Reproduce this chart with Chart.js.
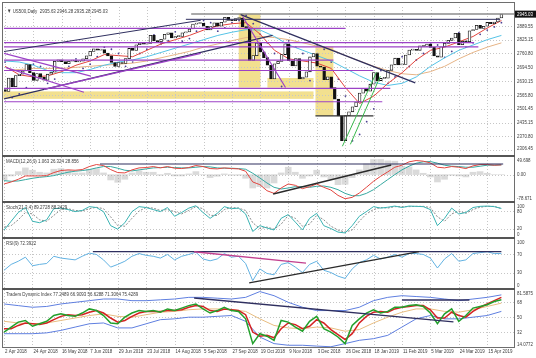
<!DOCTYPE html>
<html>
<head>
<meta charset="utf-8">
<title>US500 Daily</title>
<script src="https://cdn.jsdelivr.net/npm/chart.js@4.4.1/dist/chart.umd.min.js"></script>
<style>
  html, body { margin: 0; padding: 0; background: #fff; }
  #chart { position: relative; width: 536px; height: 358px; overflow: hidden; background: #fff; }
  #chart canvas { position: absolute; left: 0; }
  .rule { position: absolute; background: #6e6e6e; }
</style>
</head>
<body>
<div id="chart">
  <canvas id="c-price" width="536" height="152" style="top:3px"></canvas>
  <canvas id="c-macd" width="536" height="44" style="top:157px"></canvas>
  <canvas id="c-stoch" width="536" height="34" style="top:203px"></canvas>
  <canvas id="c-rsi" width="536" height="49" style="top:239px"></canvas>
  <canvas id="c-tdi" width="536" height="68" style="top:290px"></canvas>
  <div class="rule" style="left:2px;top:2px;width:513px;height:1px"></div>
  <div class="rule" style="left:2px;top:2px;width:1px;height:346px"></div>
  <div class="rule" style="left:514px;top:2px;width:1px;height:346px"></div>
  <div class="rule" style="left:2px;top:347px;width:513px;height:1px"></div>
  <div class="rule" style="left:2px;top:155px;width:513px;height:2px;background:#555"></div>
  <div class="rule" style="left:2px;top:201px;width:513px;height:2px;background:#555"></div>
  <div class="rule" style="left:2px;top:237px;width:513px;height:2px;background:#555"></div>
  <div class="rule" style="left:2px;top:288px;width:513px;height:2px;background:#555"></div>
</div>
<script>
// ---- time axis (bar index 0 = 2 Apr 2018, one label every 16 bars) ----
const dateLabels = ['2 Apr 2018', '24 Apr 2018', '16 May 2018', '7 Jun 2018', '29 Jun 2018', '23 Jul 2018',
  '14 Aug 2018', '5 Sep 2018', '27 Sep 2018', '19 Oct 2018', '9 Nov 2018', '3 Dec 2018', '26 Dec 2018',
  '18 Jan 2019', '11 Feb 2019', '5 Mar 2019', '24 Mar 2019', '15 Apr 2019'];
const labelEvery = 16;

// ---- price: one sampled candle every 2 bars ----
const barStep = 2;
const firstOpen = 2590;
const closes = [
  2582, 2645, 2604, 2656, 2663, 2678, 2708, 2670, 2634, 2666,
  2648, 2635, 2663, 2672, 2723, 2730, 2722, 2712, 2724, 2727,
  2721, 2724, 2735, 2749, 2770, 2782, 2776, 2779, 2762, 2749,
  2718, 2699, 2718, 2713, 2736, 2784, 2774, 2801, 2809, 2804,
  2807, 2846, 2819, 2816, 2827, 2850, 2857, 2833, 2839, 2840,
  2857, 2861, 2875, 2898, 2901, 2902, 2888, 2871, 2887, 2904,
  2888, 2907, 2930, 2916, 2914, 2924, 2926, 2886, 2881, 2728,
  2750, 2809, 2768, 2741, 2705, 2641, 2712, 2723, 2755, 2806,
  2726, 2702, 2736, 2641, 2649, 2674, 2744, 2760, 2700, 2696,
  2637, 2651, 2600, 2546, 2467, 2351, 2468, 2486, 2510, 2532,
  2574, 2597, 2583, 2616, 2671, 2633, 2643, 2644, 2681, 2707,
  2738, 2707, 2709, 2753, 2776, 2780, 2775, 2796, 2793, 2804,
  2789, 2749, 2743, 2792, 2808, 2822, 2833, 2855, 2801, 2818,
  2815, 2867, 2873, 2893, 2878, 2888, 2906, 2900, 2908, 2927,
  2945
];
const lastPrice = 2945.03;
const priceTicks = [2306.45, 2370.80, 2435.15, 2501.45, 2565.80, 2630.15, 2694.50, 2760.80, 2825.15, 2889.55];

// moving averages, one value every 8 bars
const maStep = 8;
const maFast = [2700, 2660, 2650, 2655, 2675, 2705, 2725, 2755, 2750, 2745, 2775, 2805, 2825, 2845, 2870, 2890, 2900, 2905,
  2850, 2775, 2735, 2725, 2715, 2690, 2600, 2525, 2560, 2620, 2670, 2730, 2775, 2790, 2815, 2840, 2880, 2915];
const maMid = [2725, 2720, 2705, 2680, 2670, 2670, 2685, 2705, 2720, 2730, 2745, 2765, 2785, 2805, 2825, 2845, 2860, 2872,
  2870, 2840, 2800, 2775, 2750, 2725, 2690, 2655, 2625, 2610, 2620, 2650, 2700, 2740, 2775, 2800, 2825, 2845];
const maSlow = [2680, 2685, 2690, 2690, 2690, 2695, 2700, 2705, 2710, 2715, 2725, 2740, 2755, 2770, 2790, 2805, 2820, 2835,
  2840, 2835, 2825, 2810, 2795, 2780, 2750, 2725, 2700, 2680, 2665, 2660, 2675, 2700, 2735, 2765, 2790, 2810];

// parabolic SAR and the oscillators, one value every 4 bars
const oscStep = 4;
const sar = [
  2720, 2553, 2570, 2600, 2710, 2700, 2620, 2640, 2680, 2700,
  2735, 2690, 2710, 2745, 2790, 2780, 2760, 2700, 2720, 2760,
  2780, 2848, 2805, 2820, 2862, 2818, 2830, 2865, 2915, 2905,
  2865, 2880, 2905, 2915, 2940, 2900, 2850, 2810, 2760, 2605,
  2820, 2790, 2760, 2633, 2800, 2780, 2720, 2640, 2560, 2350,
  2380, 2440, 2500, 2680, 2620, 2650, 2745, 2700, 2730, 2760,
  2810, 2800, 2742, 2770, 2858, 2790, 2810, 2850, 2870, 2885,
  2905
];
const macdMain = [
  -28, -22, -14, -4, -4, -4, -3, 6, 12, 14,
  13, 15, 24, 30, 27, 15, 6, 5, 14, 20,
  21, 24, 20, 24, 19, 18, 21, 27, 24, 18,
  17, 20, 18, 17, 10, -22, -30, -48, -56, -40,
  -28, -32, -42, -36, -28, -38, -46, -62, -72, -68,
  -55, -38, -20, -5, 8, 22, 28, 38, 42, 40,
  35, 22, 20, 24, 22, 18, 26, 30, 30, 28,
  29
];
const macdSignal = [
  -18, -20, -19, -15, -11, -8, -6, -3, 2, 7,
  10, 12, 15, 20, 24, 24, 19, 13, 11, 14,
  17, 20, 21, 22, 21, 20, 20, 22, 24, 23,
  20, 19, 19, 18, 16, 4, -10, -25, -38, -43,
  -40, -36, -36, -38, -35, -34, -38, -45, -56, -63,
  -63, -56, -45, -30, -15, 0, 14, 25, 34, 38,
  39, 34, 28, 25, 24, 22, 22, 25, 28, 28,
  29
];
const macdHist = [
  -16, -4, 9, 20, 13, 7, 5, 16, 18, 13,
  5, 5, 16, 18, 5, -16, -23, -14, 5, 11,
  7, 7, -2, 4, -4, -4, 2, 9, 0, -9,
  -5, 2, -2, -2, -11, -40, -36, -40, -25, 5,
  22, 7, -11, -4, 13, -7, -14, -30, -29, -9,
  14, 32, 45, 45, 41, 40, 25, 23, 14, 4,
  -7, -22, -14, -2, -4, -7, 7, 9, 4, 0,
  0
];
const stochK = [
  15, 45, 75, 92, 45, 40, 50, 88, 90, 85,
  78, 82, 95, 92, 78, 30, 18, 40, 78, 95,
  92, 85, 78, 92, 62, 75, 90, 98, 75, 55,
  72, 95, 88, 90, 70, 10, 30, 22, 15, 55,
  68, 42, 15, 55, 72, 30, 20, 8, 5, 30,
  62, 78, 95, 90, 93, 97, 92, 97, 96, 95,
  85, 30, 55, 90, 70, 75, 92, 96, 97, 95,
  89
];
const stochD = [
  25, 30, 50, 75, 70, 50, 45, 65, 85, 88,
  82, 80, 88, 93, 88, 60, 30, 28, 55, 80,
  92, 90, 82, 85, 78, 70, 82, 95, 88, 65,
  65, 85, 92, 90, 82, 40, 20, 25, 18, 35,
  65, 55, 28, 35, 65, 50, 28, 15, 8, 15,
  45, 70, 85, 92, 90, 95, 95, 95, 96, 96,
  92, 60, 45, 70, 80, 72, 85, 93, 96, 96,
  88
];
const rsi = [
  35, 48, 55, 64, 45, 48, 50, 66, 62, 60,
  58, 66, 73, 70, 58, 42, 48, 55, 66, 72,
  68, 66, 62, 70, 58, 66, 70, 75, 60, 56,
  60, 72, 64, 66, 50, 12, 38, 28, 25, 48,
  52, 42, 30, 48, 55, 35, 30, 22, 17, 38,
  52, 58, 68, 60, 64, 70, 64, 72, 72, 70,
  62, 40, 60, 72, 55, 58, 72, 74, 76, 72,
  72
];
const tdiPrice = [
  32, 38, 44, 46, 39, 42, 45, 52, 54, 52,
  51, 55, 60, 58, 52, 43, 42, 50, 55, 58,
  57, 58, 56, 60, 58, 61, 64, 66, 60, 55,
  58, 62, 58, 57, 48, 18, 30, 27, 22, 46,
  44, 38, 33, 45, 51, 36, 32, 26, 18, 40,
  48, 55, 59, 55, 57, 62, 62, 64, 65, 63,
  55, 42, 54, 60, 45, 52, 61, 63, 65, 69,
  71
];
const tdiSignal = [
  36, 36, 40, 43, 42, 41, 43, 47, 51, 53,
  52, 53, 56, 58, 55, 49, 44, 46, 51, 55,
  57, 57, 57, 58, 58, 59, 62, 64, 63, 58,
  57, 60, 59, 58, 53, 32, 27, 28, 25, 36,
  43, 41, 36, 39, 47, 43, 35, 29, 23, 30,
  43, 51, 56, 57, 56, 60, 62, 63, 64, 64,
  59, 49, 49, 56, 52, 50, 57, 62, 66, 70,
  74
];
// TDI base line and volatility bands, one value every 8 bars
const tdiBase = [45, 43, 42, 43, 46, 49, 52, 54, 51, 50, 53, 56, 57, 59, 60, 60, 59, 57,
  48, 40, 37, 36, 38, 37, 33, 35, 43, 50, 56, 60, 60, 57, 56, 59, 63, 67];
const tdiUpper = [66, 64, 62, 63, 66, 68, 70, 72, 72, 70, 70, 71, 72, 74, 74, 73, 72, 74,
  81, 76, 68, 62, 58, 58, 58, 62, 70, 74, 76, 75, 74, 72, 70, 72, 74, 77];
const tdiLower = [30, 30, 30, 31, 34, 38, 42, 43, 37, 37, 42, 47, 48, 50, 50, 51, 52, 45,
  26, 18, 16, 16, 15, 14.2, 18, 22, 24, 28, 38, 48, 52, 48, 48, 50, 52, 57];

// ---- drawn objects: [bar from, bar to, price low, price high] and lines ----
const PURPLE = '#9c42c6', NAVY = '#2f2f5f', GREEN = '#38b84c';
const zones = [
  [131.8, 144.1, 2600, 2947],
  [175.1, 185.2, 2467, 2792],
  [-1, 174, 2547, 2582],
  [148, 174, 2600, 2645]
];
const priceLevels = [ // [price, bar from, bar to, colour, width]
  [2946, 105, 290, '#8c8c8c', 1.4],
  [2920.7, 102, 279.3, NAVY, 1],
  [2878.4, -1, 192, PURPLE, 1.2],
  [2811.6, -1, 264.6, PURPLE, 1.2],
  [2791.6, -1, 267, PURPLE, 1.2],
  [2729.3, -1, 185.2, PURPLE, 1.2],
  [2680.3, -1, 207.8, PURPLE, 1.2],
  [2595.8, -1, 217.3, PURPLE, 1.2],
  [2533.4, -1, 212.8, PURPLE, 1.2],
  [2466.7, 175.1, 207.8, '#333', 1.2]
];
const priceTrends = [ // [bar1, price1, bar2, price2, colour, width]
  [-0.6, 2546.8, 150.9, 2845.0, NAVY, 1.2],
  [-0.6, 2769.4, 110.4, 2916.2, NAVY, 1],
  [22, 2591.3, 110.4, 2760.5, PURPLE, 1.2],
  [-0.6, 2760.5, 48.4, 2653.6, PURPLE, 1.2],
  [0.6, 2693.7, 44.5, 2578.0, PURPLE, 1.2],
  [132.9, 2943, 231.4, 2622.5, NAVY, 1.3],
  [134, 2934, 158.2, 2600.2, PURPLE, 1.2],
  [190.3, 2324.3, 209.5, 2671.4, GREEN, 1],
  [194.8, 2333.2, 211.7, 2653.6, GREEN, 1]
];

// ---- helpers ----
const X_MIN = -0.6, X_MAX = 287.1;
const GRID = '#c6c6c6', ZONE = '#f2e08f', TEXT = '#3c3c3c';
const pts = (vals, step) => vals.map((v, i) => ({ x: i * step, y: v }));
const xPx = (chart, b) => chart.scales.x.getPixelForValue(b);
const yPx = (chart, v) => chart.scales.y.getPixelForValue(v);

function text(ctx, s, x, y, color, align) {
  ctx.save();
  ctx.translate(x, y);
  ctx.scale(0.74, 1);
  ctx.font = '6px "Liberation Sans", Arial, sans-serif';
  ctx.fillStyle = color || TEXT;
  ctx.textAlign = align || 'left';
  ctx.textBaseline = 'middle';
  ctx.fillText(s, 0, 0);
  ctx.restore();
}

function line(ctx, x1, y1, x2, y2) {
  ctx.beginPath();
  ctx.moveTo(x1, y1);
  ctx.lineTo(x2, y2);
  ctx.stroke();
}

function decorPlugin(d) {
  return {
    id: 'decor',
    beforeDatasetsDraw(chart) {
      const { ctx, chartArea: a } = chart;
      ctx.save();
      (d.zones || []).forEach(([b1, b2, lo, hi]) => {
        const x1 = xPx(chart, b1), x2 = xPx(chart, b2);
        const y1 = yPx(chart, hi), y2 = yPx(chart, lo);
        ctx.fillStyle = ZONE;
        ctx.fillRect(x1, y1, x2 - x1, y2 - y1);
      });
      ctx.strokeStyle = GRID;
      ctx.lineWidth = 1;
      ctx.setLineDash([1, 2]);
      dateLabels.forEach((_, i) => {
        const x = Math.round(xPx(chart, i * labelEvery)) + 0.5;
        line(ctx, x, a.top, x, a.bottom);
      });
      (d.grid || []).forEach(v => {
        const y = Math.round(yPx(chart, v)) + 0.5;
        line(ctx, a.left, y, a.right, y);
      });
      ctx.restore();
    },
    afterDatasetsDraw(chart) {
      const { ctx, chartArea: a } = chart;
      ctx.save();
      ctx.beginPath();
      ctx.rect(a.left, a.top, a.right - a.left, a.bottom - a.top);
      ctx.clip();
      (d.levels || []).forEach(([v, b1, b2, col, w]) => {
        ctx.strokeStyle = col;
        ctx.lineWidth = w;
        const y = yPx(chart, v);
        line(ctx, xPx(chart, b1), y, xPx(chart, b2), y);
      });
      (d.trends || []).forEach(([b1, v1, b2, v2, col, w]) => {
        ctx.strokeStyle = col;
        ctx.lineWidth = w;
        line(ctx, xPx(chart, b1), yPx(chart, v1), xPx(chart, b2), yPx(chart, v2));
      });
      ctx.restore();

      d.ticks.forEach(([v, s]) => {
        const y = Math.max(a.top + 3, Math.min(a.bottom - 3, yPx(chart, v)));
        text(ctx, s, a.right + 3, y);
      });
      if (d.title) text(ctx, d.title, a.left + 3, a.top + 4);
      if (d.after) d.after(chart);
    }
  };
}

function makePanel(id, yMin, yMax, datasets, decor, padBottom) {
  return new Chart(document.getElementById(id), {
    type: 'line',
    data: { datasets },
    options: {
      responsive: false,
      animation: false,
      events: [],
      layout: { padding: { left: 3, right: 22, top: 0, bottom: padBottom || 0 } },
      plugins: { legend: { display: false }, tooltip: { enabled: false } },
      elements: { point: { radius: 0 }, line: { tension: 0 } },
      scales: {
        x: { type: 'linear', min: X_MIN, max: X_MAX, offset: false, display: false },
        y: { type: 'linear', min: yMin, max: yMax, display: false }
      }
    },
    plugins: [decorPlugin(decor)]
  });
}

const lineSet = (data, color, width, extra) => Object.assign({
  type: 'line', data, borderColor: color, borderWidth: width, pointRadius: 0
}, extra || {});

// ---- price panel ----
const candles = closes.map((c, i) => {
  const o = i === 0 ? firstOpen : closes[i - 1];
  return { x: i * barStep, y: [o, c] };
});
makePanel('c-price', 2302.0, 2978.55, [
  {
    type: 'bar', data: candles,
    backgroundColor: candles.map(c => c.y[1] >= c.y[0] ? '#ffffff' : '#111111'),
    borderColor: '#111', borderWidth: 0.8, borderSkipped: false,
    barThickness: 2.8, minBarLength: 1
  },
  lineSet(pts(maFast, maStep), '#e2453f', 1),
  lineSet(pts(maMid, maStep), '#55c3e6', 1),
  lineSet(pts(maSlow, maStep), '#e6b486', 1),
  lineSet(pts(sar, oscStep), '#4b3f91', 0, { showLine: false, pointRadius: 0.9, pointBackgroundColor: '#4b3f91', pointBorderWidth: 0 })
], {
  zones, grid: priceTicks, levels: priceLevels, trends: priceTrends,
  ticks: priceTicks.map(v => [v, v.toFixed(2)]),
  title: '\u25BC US500,Daily  2935.63 2946.28 2935.28 2945.03',
  after(chart) {
    const { ctx, chartArea: a } = chart;
    const y = yPx(chart, lastPrice);
    ctx.fillStyle = '#111';
    ctx.fillRect(a.right + 1, y - 3.5, 21, 7);
    text(ctx, lastPrice.toFixed(2), a.right + 3, y, '#fff');
  }
});

// ---- MACD ----
makePanel('c-macd', -78.8, 52.5, [
  lineSet(pts(macdMain, oscStep), '#e2453f', 1),
  lineSet(pts(macdSignal, oscStep), '#36a8a0', 1),
  { type: 'bar', data: pts(macdHist, oscStep), backgroundColor: 'rgba(150,150,150,0.35)', barThickness: 6 }
], {
  grid: [0],
  trends: [[54, 31.6, 281, 31.6, NAVY, 1.2], [151.5, -57.9, 218, 28.6, '#2a2a2a', 1.4]],
  ticks: [[49.698, '49.698'], [0, '0.00'], [-78.671, '-78.671']],
  title: 'MACD(12,26,9) 1.063 26.324 28.856'
});

// ---- Stochastic ----
makePanel('c-stoch', -8.9, 107.5, [
  lineSet(pts(stochK, oscStep), '#3ab3b3', 1),
  lineSet(pts(stochD, oscStep), '#8a8a8a', 1, { borderDash: [2, 1.5] })
], {
  grid: [80, 20],
  ticks: [[100, '100'], [80, '80'], [20, '20'], [0, '0']],
  title: 'Stoch(21,3,4) 89.2728 88.2429'
});

// ---- RSI ----
makePanel('c-rsi', -4.2, 104.2, [
  lineSet(pts(rsi, oscStep), '#62b2e2', 1)
], {
  grid: [70, 30],
  trends: [[50, 76.1, 280, 76.1, NAVY, 1.2], [107, 76, 170, 51, '#c2408f', 1.3], [138, 6.9, 233.6, 76.1, '#2a2a2a', 1.3]],
  ticks: [[100, '100'], [70, '70'], [30, '30'], [0, '0']],
  title: 'RSI(9) 72.3922'
});

// ---- Traders Dynamic Index + time axis ----
makePanel('c-tdi', 13.9, 82.9, [
  lineSet(pts(tdiPrice, oscStep), '#22a02c', 1.5),
  lineSet(pts(tdiSignal, oscStep), '#d42222', 1.5),
  lineSet(pts(tdiBase, maStep), '#e8bd80', 1),
  lineSet(pts(tdiUpper, maStep), '#5f7fe0', 1),
  lineSet(pts(tdiLower, maStep), '#5f7fe0', 1)
], {
  grid: [68, 50, 32],
  trends: [[107, 73.2, 253, 44.2, NAVY, 1.3], [224, 70.8, 262, 70.8, NAVY, 1.3]],
  ticks: [[81.5875, '81.5875'], [68, '68'], [50, '50'], [32, '32'], [14.0772, '14.0772']],
  title: 'Traders Dynamic Index 77.2489 66.9093 56.6288 71.3064 75.4289',
  after(chart) {
    const { ctx, chartArea: a } = chart;
    dateLabels.forEach((s, i) => text(ctx, s, xPx(chart, i * labelEvery) + 1, a.bottom + 4.5));
  }
}, 11);
</script>
</body>
</html>
